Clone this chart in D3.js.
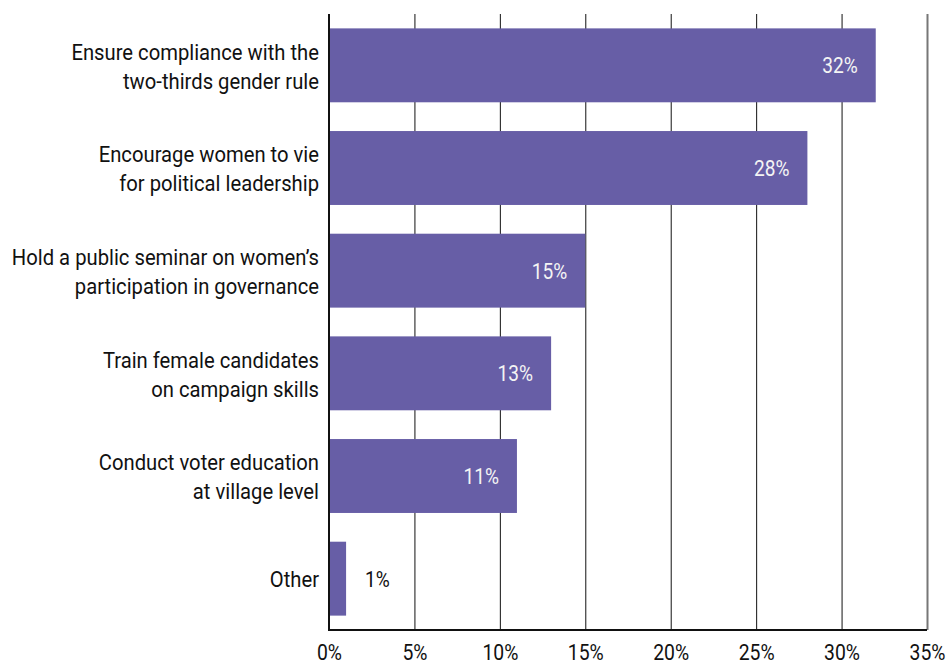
<!DOCTYPE html>
<html><head><meta charset="utf-8">
<script src="https://cdn.jsdelivr.net/npm/d3@7"></script>
<style>
body{margin:0;background:#fff;}
text{font-family:Roboto,"Noto Sans",sans-serif;}
</style></head>
<body><svg id="c" width="947" height="664"></svg>
<script>
const categories = [
  "Ensure compliance with the\ntwo-thirds gender rule",
  "Encourage women to vie\nfor political leadership",
  "Hold a public seminar on women’s\nparticipation in governance",
  "Train female candidates\non campaign skills",
  "Conduct voter education\nat village level",
  "Other"
];
const values = [32, 28, 15, 13, 11, 1];
const tickValues = [0, 5, 10, 15, 20, 25, 30, 35];

(function(){
const svg = d3.select("#c");
const yTop = 14, yBase = 630;
const x = d3.scaleLinear().domain([0, 35]).range([329, 927]);
const y = d3.scaleBand().domain(categories).range([yTop, yBase]).paddingInner(0.28).paddingOuter(0.14);

// gridlines
const grid = svg.append("g").attr("transform", `translate(0,${yBase})`)
  .call(d3.axisBottom(x).tickValues(tickValues).tickSize(-(yBase - yTop)).tickFormat(""));
grid.select(".domain").remove();
grid.selectAll(".tick line").attr("stroke", "#111").attr("stroke-width", 1)
  .filter(d => d === 35).attr("stroke", "#777").attr("stroke-width", 2);
grid.selectAll(".tick").filter(d => d === 0).remove();

// bars
svg.append("g").selectAll("rect").data(values).join("rect")
  .attr("x", x(0))
  .attr("y", (d, i) => y(categories[i]))
  .attr("width", d => x(d) - x(0))
  .attr("height", y.bandwidth())
  .attr("fill", "#675EA6");

// value labels
svg.append("g").selectAll("text").data(values).join("text")
  .attr("transform", (d, i) => {
    const inside = d > 5;
    const xx = inside ? x(d) - 18 : x(d) + 19;
    return `translate(${xx},${y(categories[i]) + y.bandwidth() / 2}) scale(0.87,1)`;
  })
  .attr("text-anchor", d => d > 5 ? "end" : "start")
  .attr("dy", "0.36em")
  .attr("font-size", 22)
  .attr("fill", d => d > 5 ? "#f4f4f4" : "#111")
  .text(d => d + "%");

// bottom axis with labels
const ax = svg.append("g").attr("transform", `translate(0,${yBase})`)
  .call(d3.axisBottom(x).tickValues(tickValues).tickSize(0).tickPadding(14).tickFormat(d => d + "%"));
ax.select(".domain").remove();
ax.selectAll(".tick text").attr("font-size", 22).attr("fill", "#111")
  .attr("font-family", "Roboto").attr("transform", "scale(0.88,1)");

// axis lines
svg.append("line").attr("x1", x(0)).attr("x2", x(0)).attr("y1", yTop).attr("y2", yBase + 1)
  .attr("stroke", "#111").attr("stroke-width", 2);
svg.append("line").attr("x1", x(0) - 1).attr("x2", x(35)).attr("y1", yBase).attr("y2", yBase)
  .attr("stroke", "#111").attr("stroke-width", 2);

// category labels
const lab = svg.append("g").selectAll("g").data(categories).join("g")
  .attr("transform", d => `translate(${x(0) - 10},${y(d) + y.bandwidth() / 2}) scale(0.92,1)`);
lab.each(function(d){
  const lines = d.split("\n");
  const lh = 29;
  const t = d3.select(this).append("text").attr("text-anchor", "end")
    .attr("font-size", 22).attr("fill", "#111");
  lines.forEach((ln, k) => {
    t.append("tspan").attr("x", 0)
      .attr("y", (k - (lines.length - 1) / 2) * lh)
      .attr("dy", "0.4em").text(ln);
  });
});
})();
</script></body></html>
